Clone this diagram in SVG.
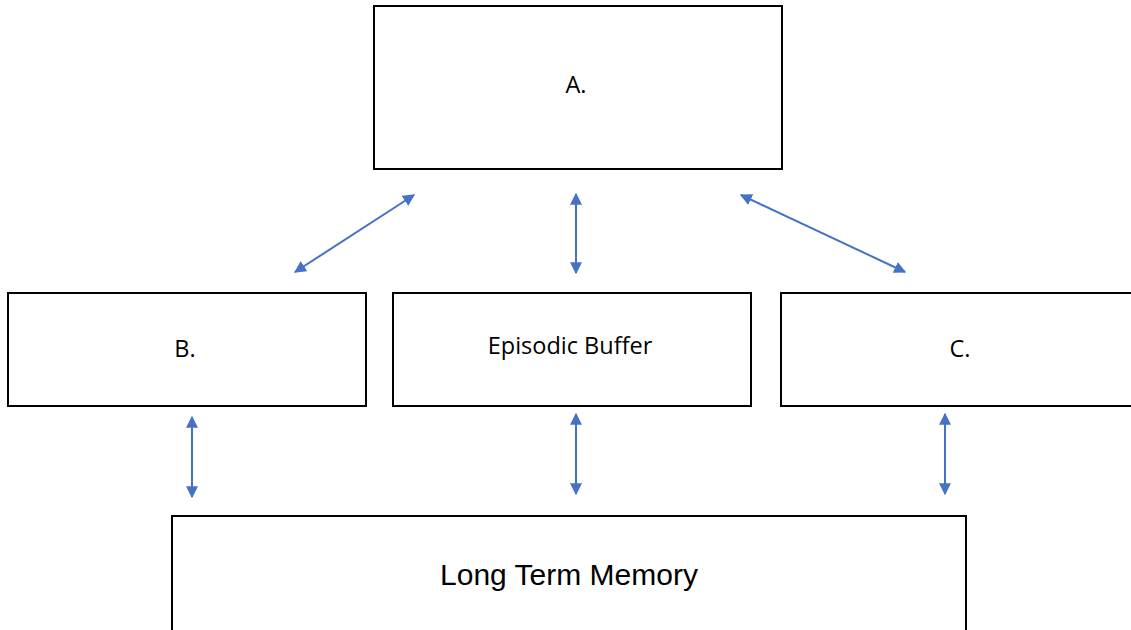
<svg xmlns="http://www.w3.org/2000/svg" width="1131" height="630" viewBox="0 0 1131 630">
<style>
.box{fill:#fff;stroke:#000;stroke-width:2}
.lbl{font-family:"Open Sans","Noto Sans",sans-serif;font-size:23.5px;fill:#000;text-anchor:middle}
.big{font-family:"Liberation Sans",Arial,sans-serif;font-size:30px;fill:#000;text-anchor:middle}
.conn{stroke:#4472C4;stroke-width:2;fill:none;marker-start:url(#ah);marker-end:url(#ah)}
</style>
<defs>
<marker id="ah" viewBox="0 0 10 10" refX="9" refY="5" markerWidth="6" markerHeight="6" orient="auto-start-reverse" markerUnits="strokeWidth">
<path d="M0,0 L10,5 L0,10 z" fill="#4472C4"/>
</marker>
</defs>
<rect width="1131" height="630" fill="#fff"/>
<g id="nodeA"><rect class="box" x="374" y="6" width="408" height="163"/><text class="lbl" x="576" y="93">A.</text></g>
<g id="nodeB"><rect class="box" x="8" y="293" width="358" height="113"/><text class="lbl" x="185" y="357">B.</text></g>
<g id="nodeEB"><rect class="box" x="393" y="293" width="358" height="113"/><text class="lbl" x="570" y="354">Episodic Buffer</text></g>
<g id="nodeC"><rect class="box" x="781" y="293" width="360" height="113"/><text class="lbl" x="960" y="357">C.</text></g>
<g id="nodeLTM"><rect class="box" x="172" y="516" width="794" height="120"/><text class="big" x="569" y="585">Long Term Memory</text></g>
<g id="connectors">
<line class="conn" x1="295" y1="272" x2="414" y2="195"/>
<line class="conn" x1="576" y1="194" x2="576" y2="273"/>
<line class="conn" x1="741" y1="195" x2="905" y2="272"/>
<line class="conn" x1="192" y1="417" x2="192" y2="497"/>
<line class="conn" x1="576" y1="414" x2="576" y2="494"/>
<line class="conn" x1="945" y1="414" x2="945" y2="494"/>
</g>
</svg>
